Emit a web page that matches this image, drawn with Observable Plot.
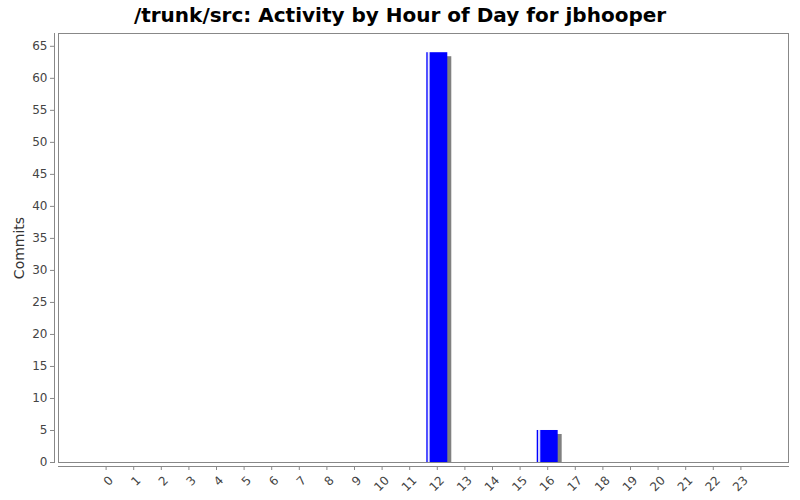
<!DOCTYPE html>
<html><head><meta charset="utf-8">
<script src="https://cdn.jsdelivr.net/npm/d3@7"></script>
<script src="https://cdn.jsdelivr.net/npm/@observablehq/plot@0.6"></script>
<style>
body{margin:0;background:#fff;}
#title{height:25px;padding-top:3px;line-height:25px;text-align:center;font:bold 20px "DejaVu Sans",sans-serif;color:#000;white-space:nowrap;}
#chart svg{display:block;}
</style></head><body>
<svg width="0" height="0" style="position:absolute">
  <defs>
    <linearGradient id="barGrad" x1="0" x2="1" y1="0" y2="0">
      <stop offset="0" stop-color="#0000ff"/>
      <stop offset="0.04" stop-color="#0000ff"/>
      <stop offset="0.08" stop-color="#c8c8ff"/>
      <stop offset="0.12" stop-color="#ffffff"/>
      <stop offset="0.16" stop-color="#8080ff"/>
      <stop offset="0.2" stop-color="#0000ff"/>
      <stop offset="1" stop-color="#0000ff"/>
    </linearGradient>
  </defs>
</svg>
<div id="title">/trunk/src: Activity by Hour of Day for jbhooper</div>
<div id="chart"></div>
<script>
const hours = ["0","1","2","3","4","5","6","7","8","9","10","11","12","13","14","15","16","17","18","19","20","21","22","23"];
const commits = [0,0,0,0,0,0,0,0,0,0,0,0,64,0,0,0,5,0,0,0,0,0,0,0];
const yTicks = [0,5,10,15,20,25,30,35,40,45,50,55,60,65];
const yLabel = "Commits";

const data = hours.map((h, i) => ({hour: h, commits: commits[i]})).filter(d => d.commits > 0);

const chart = Plot.plot({
  width: 800,
  height: 472,
  marginLeft: 58,
  marginRight: 12,
  marginTop: 5,
  marginBottom: 38,
  style: {fontFamily: "'DejaVu Sans', sans-serif", fontSize: "12px", color: "#444", background: "#fff"},
  x: {domain: hours, paddingInner: 0.24, paddingOuter: 1.345, round: false},
  y: {domain: [0, 67]},
  marks: [
    Plot.frame({stroke: "#888"}),
    Plot.barY(data, {x: "hour", y: "commits", fill: "#808080", dx: 4, dy: 4, clip: true}),
    Plot.barY(data, {x: "hour", y: "commits", fill: "url(#barGrad)"}),
    Plot.axisY({ticks: yTicks, dx: -4, tickSize: 4, tickPadding: 3, label: null, stroke: "#888", fill: "#444"}),
    Plot.frame({anchor: "left", dx: -4, stroke: "#888"}),
    Plot.axisX({dy: 4, tickSize: 4, label: null, stroke: "#888", fill: "none"}),
    Plot.axisX({tickRotate: -45, dx: 5, dy: 4, tickSize: 0, tickPadding: 12, label: null, stroke: "none", fill: "#444"}),
    Plot.frame({anchor: "bottom", dy: 4, stroke: "#888"}),
    Plot.text([yLabel], {frameAnchor: "left", text: d => d, rotate: -90, dx: -39, textAnchor: "middle", fontSize: 14, fill: "#333"})
  ]
});
document.getElementById("chart").appendChild(chart);
</script>
</body></html>
